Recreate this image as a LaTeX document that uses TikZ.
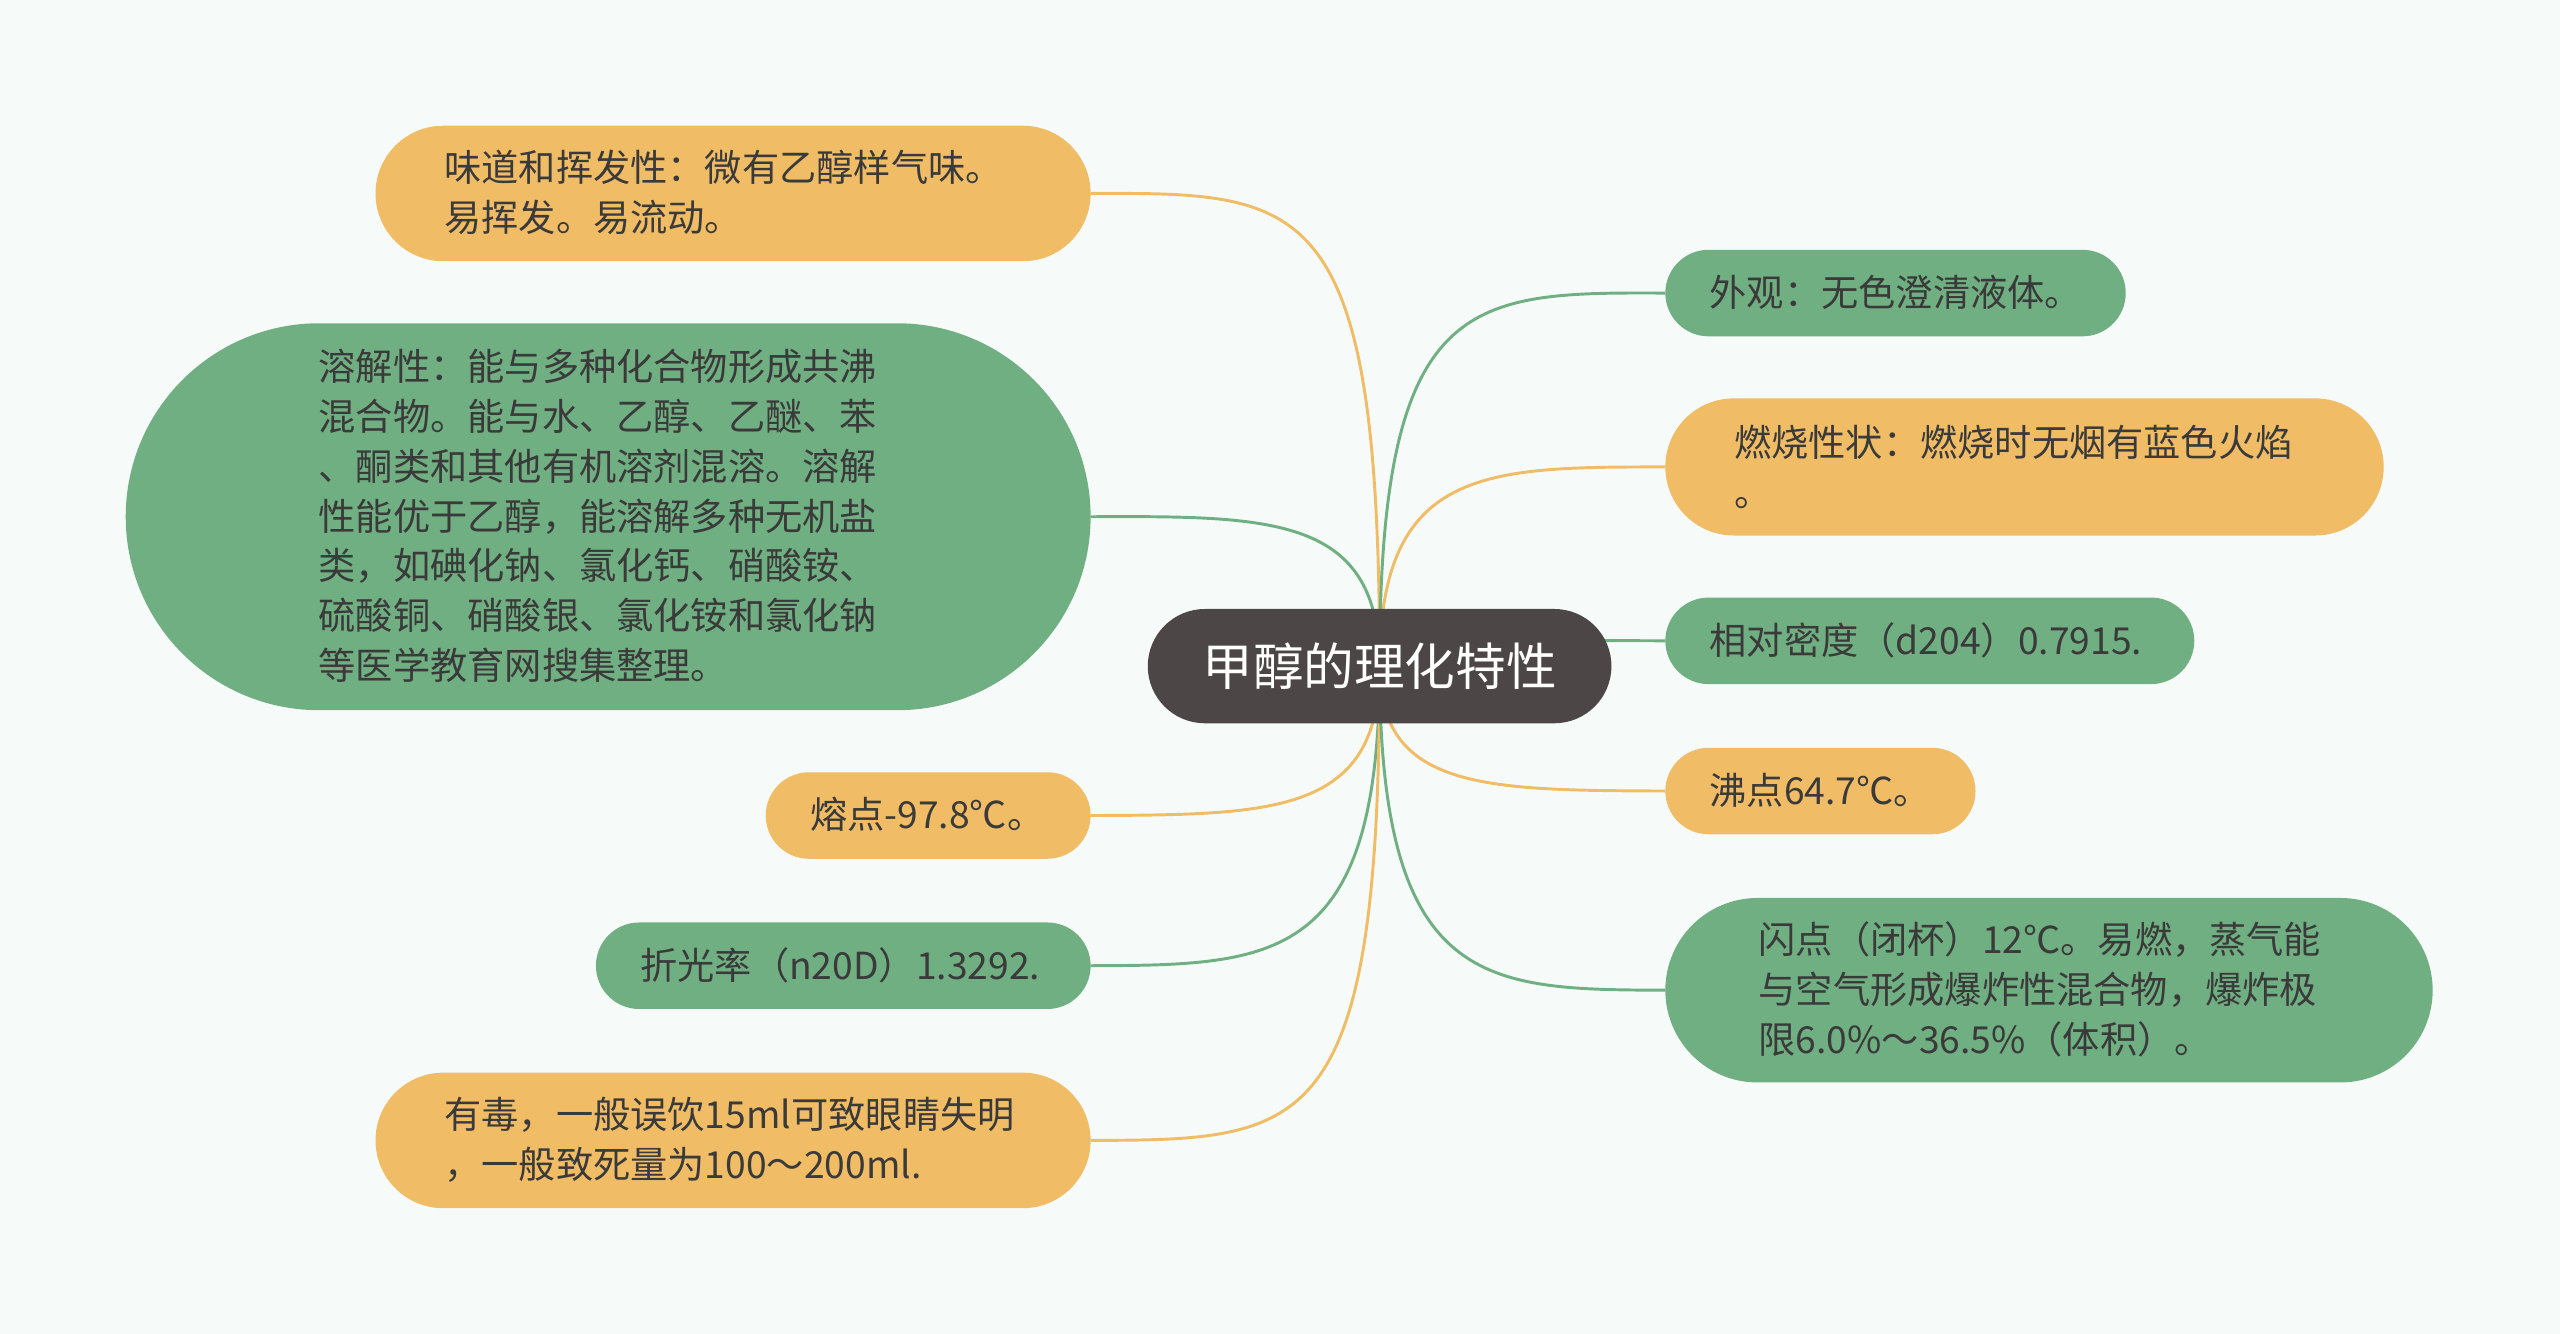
\documentclass[tikz,border=0pt]{standalone}
\usepackage{fontspec}
\setmainfont{Noto Sans CJK SC}
\definecolor{bg}{HTML}{F6FBFA}
\definecolor{org}{HTML}{F0BD66}
\definecolor{grn}{HTML}{70AF82}
\definecolor{dk}{HTML}{4C4646}
\definecolor{tx}{HTML}{3A3A3A}
\begin{document}
\begin{tikzpicture}[x=1pt,y=-1pt,
  pill/.style={inner sep=0pt,outer sep=0pt},
  lbl/.style={anchor=west,align=left,text=tx,font=\fontsize{22.8}{30.5}\selectfont,inner sep=0pt},
  lo/.style={draw=org,line width=1.8pt},
  lg/.style={draw=grn,line width=1.8pt}]
\fill[bg] (0,0) rectangle (1568,817);
\useasboundingbox (0,0) rectangle (1568,817);
\newcommand{\pillbox}[6]{% name, x1,y1,x2,y2,color
  \pgfmathsetmacro{\rr}{(#5-#3)/2}
  \node[pill,fill=#6,rounded corners=\rr pt,minimum width={#4-#2},minimum height={#5-#3}] (#1) at ({(#2+#4)/2},{(#3+#5)/2}) {};}
\pillbox{n1}{230}{77}{668}{160}{org}
\pillbox{n2}{77}{198}{668}{435}{grn}
\pillbox{n3}{469}{473}{668}{526}{org}
\pillbox{n4}{365}{565}{668}{618}{grn}
\pillbox{n5}{230}{657}{668}{740}{org}
\pillbox{n6}{1020}{153}{1302}{206}{grn}
\pillbox{n7}{1020}{244}{1460}{328}{org}
\pillbox{n8}{1020}{366}{1344}{419}{grn}
\pillbox{n9}{1020}{458}{1210}{511}{org}
\pillbox{n10}{1020}{550}{1490}{663}{grn}
\coordinate (c) at (845,408);
\draw[lo] (c) .. controls (845,118) and (800,118) .. (n1.east);
\draw[lg] (c) .. controls (845,316) and (780,316) .. (n2.east);
\draw[lo] (c) .. controls (845,499) and (780,499) .. (n3.east);
\draw[lg] (c) .. controls (845,591) and (780,591) .. (n4.east);
\draw[lo] (c) .. controls (845,698) and (800,698) .. (n5.east);
\draw[lg] (c) .. controls (845,179) and (900,179) .. (n6.west);
\draw[lo] (c) .. controls (845,286) and (910,286) .. (n7.west);
\draw[lg] (c) .. controls (845,392) and (910,392) .. (n8.west);
\draw[lo] (c) .. controls (845,484) and (910,484) .. (n9.west);
\draw[lg] (c) .. controls (845,606) and (910,606) .. (n10.west);
\node[pill,fill=dk,rounded corners=35pt,minimum width=284,minimum height=70,text=white,font=\fontsize{31}{36}\selectfont] (ctr) at (845,408) {甲醇的理化特性};
\node[lbl] at (272,118) {味道和挥发性：微有乙醇样气味。\\易挥发。易流动。};
\node[lbl] at (195,316) {溶解性：能与多种化合物形成共沸\\混合物。能与水、乙醇、乙醚、苯\\、酮类和其他有机溶剂混溶。溶解\\性能优于乙醇，能溶解多种无机盐\\类，如碘化钠、氯化钙、硝酸铵、\\硫酸铜、硝酸银、氯化铵和氯化钠\\等医学教育网搜集整理。};
\node[lbl] at (496,499) {熔点-97.8℃。};
\node[lbl] at (392,591) {折光率（n20D）1.3292.};
\node[lbl] at (272,698) {有毒，一般误饮15ml可致眼睛失明\\，一般致死量为100～200ml.};
\node[lbl] at (1047,179) {外观：无色澄清液体。};
\node[lbl] at (1062,286) {燃烧性状：燃烧时无烟有蓝色火焰\\。};
\node[lbl] at (1047,392) {相对密度（d204）0.7915.};
\node[lbl] at (1047,484) {沸点64.7℃。};
\node[lbl] at (1077,606) {闪点（闭杯）12℃。易燃，蒸气能\\与空气形成爆炸性混合物，爆炸极\\限6.0\%～36.5\%（体积）。};
\end{tikzpicture}
\end{document}
